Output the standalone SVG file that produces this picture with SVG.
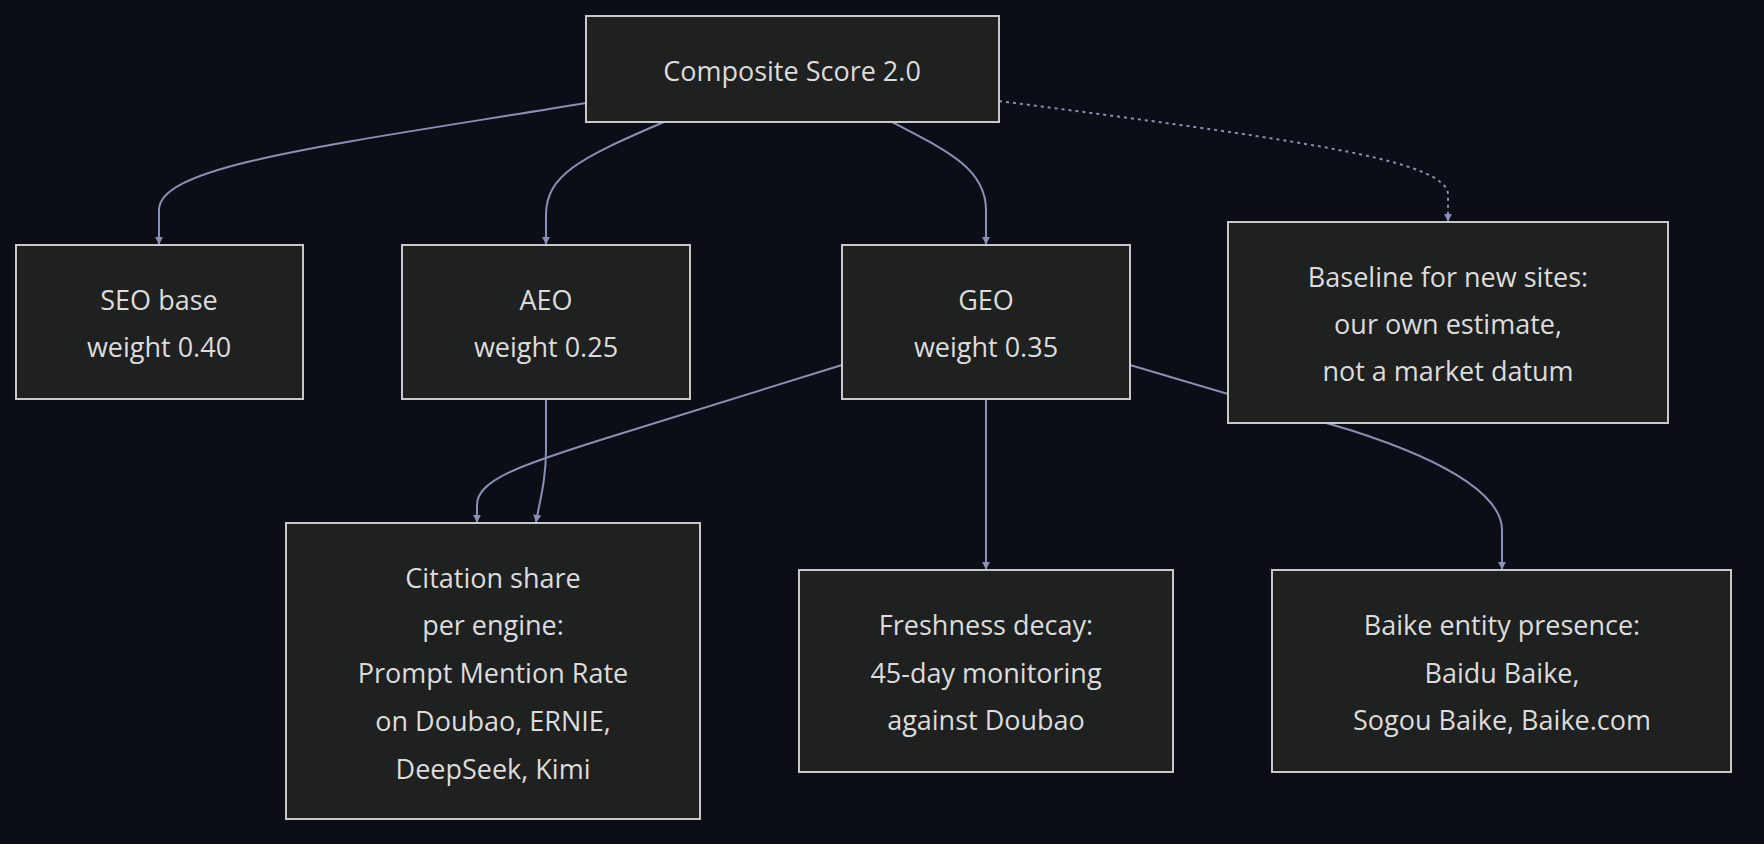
<svg xmlns="http://www.w3.org/2000/svg" width="1764" height="844" viewBox="0 0 1764 844">
<defs>
<style>
.n rect{fill:#1f2020;stroke:#c8c8c8;stroke-width:2}
.n text{font-family:"Open Sans","DejaVu Sans",sans-serif;font-size:27px;fill:#dcdcdc;text-anchor:middle;dominant-baseline:central}
.e path{fill:none;stroke:#8a90b5;stroke-width:2}
</style>
<marker id="a" viewBox="0 0 10 10" refX="9" refY="5" markerWidth="8" markerHeight="8" markerUnits="userSpaceOnUse" orient="auto"><path d="M0,0L10,5L0,10z" fill="#8a90b5"/></marker>
</defs>
<rect width="1764" height="844" fill="#0b0e17"/>
<g class="e">
<path d="M586,103 C330,145 159,165 159,210 L159,244" marker-end="url(#a)" style="stroke-width:2"/>
<path d="M664,122 C580,158 546,175 546,215 L546,244" marker-end="url(#a)"/>
<path d="M892,122 C950,152 986,170 986,210 L986,244" marker-end="url(#a)"/>
<path d="M999,101 C1300,140 1448,160 1448,195 L1448,221" marker-end="url(#a)" stroke-dasharray="3,4"/>
<path d="M546,399 L546,450 C546,480 540,500 536,522" marker-end="url(#a)"/>
<path d="M842,365 L610,437 C520,465 477,480 477,505 L477,522" marker-end="url(#a)"/>
<path d="M986,399 L986,569" marker-end="url(#a)"/>
<path d="M1130,365 L1350,430 C1460,465 1502,500 1502,530 L1502,569" marker-end="url(#a)"/>
</g>
<g id="composite" class="n"><rect x="586" y="16" width="413" height="106"/><text x="792" y="70">Composite Score 2.0</text></g>
<g id="seo" class="n"><rect x="16" y="245" width="287" height="154"/><text x="159" y="299">SEO base</text><text x="159" y="346">weight 0.40</text></g>
<g id="aeo" class="n"><rect x="402" y="245" width="288" height="154"/><text x="546" y="299">AEO</text><text x="546" y="346">weight 0.25</text></g>
<g id="geo" class="n"><rect x="842" y="245" width="288" height="154"/><text x="986" y="299">GEO</text><text x="986" y="346">weight 0.35</text></g>
<g id="baseline" class="n"><rect x="1228" y="222" width="440" height="201"/><text x="1448" y="276">Baseline for new sites:</text><text x="1448" y="323">our own estimate,</text><text x="1448" y="370">not a market datum</text></g>
<g id="citation" class="n"><rect x="286" y="523" width="414" height="296"/><text x="493" y="577">Citation share</text><text x="493" y="624">per engine:</text><text x="493" y="672">Prompt Mention Rate</text><text x="493" y="720">on Doubao, ERNIE,</text><text x="493" y="768">DeepSeek, Kimi</text></g>
<g id="freshness" class="n"><rect x="799" y="570" width="374" height="202"/><text x="986" y="624">Freshness decay:</text><text x="986" y="672">45-day monitoring</text><text x="986" y="719">against Doubao</text></g>
<g id="baike" class="n"><rect x="1272" y="570" width="459" height="202"/><text x="1502" y="624">Baike entity presence:</text><text x="1502" y="672">Baidu Baike,</text><text x="1502" y="719">Sogou Baike, Baike.com</text></g>
</svg>
